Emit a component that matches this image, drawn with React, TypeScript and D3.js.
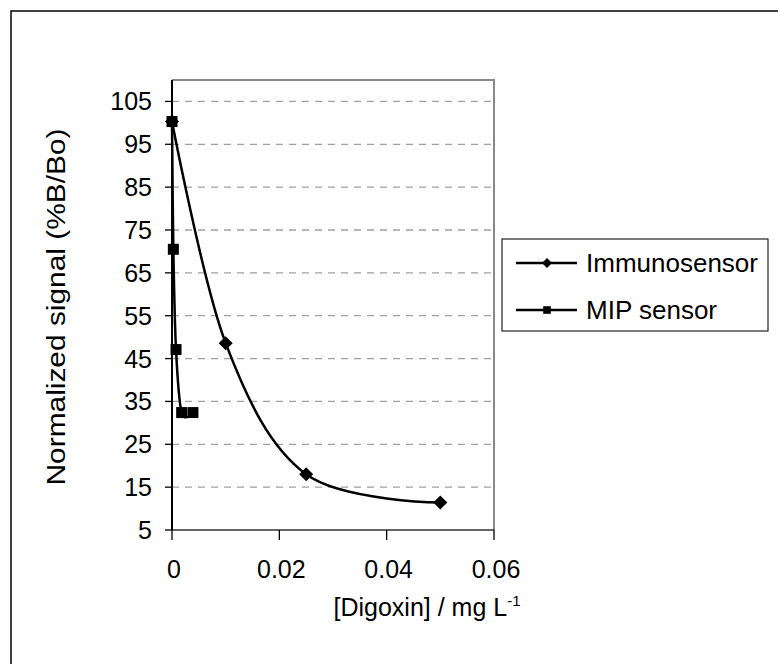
import React, { useEffect, useRef } from "react";
import * as d3 from "d3";

// ---------------------- data
const immunoX = [0, 0.01, 0.025, 0.05];
const immunoY = [100.3, 48.6, 18, 11.4];

const mipX = [0, 0.00025, 0.00075, 0.0018, 0.0039];
const mipY = [100.3, 70.5, 47.1, 32.4, 32.4];

const xTicks = [0, 0.02, 0.04, 0.06];
const yTicks = [5, 15, 25, 35, 45, 55, 65, 75, 85, 95, 105];

const seriesNames = ["Immunosensor", "MIP sensor"];

const App = () => {
   const svgRef = useRef<SVGSVGElement>(null);

   useEffect(() => {
      const width = 778;
      const height = 664;
      const plot = { left: 172, right: 494, top: 80, bottom: 530 };
      const font = "Liberation Sans, Arial, sans-serif";

      const svg = d3.select(svgRef.current);
      svg.selectAll("*").remove();
      svg.attr("width", width).attr("height", height);

      svg.append("rect").attr("width", width).attr("height", height).attr("fill", "#fff");

      // outer frame
      svg.append("rect")
         .attr("x", 11)
         .attr("y", 11)
         .attr("width", 900)
         .attr("height", 900)
         .attr("fill", "none")
         .attr("stroke", "#000")
         .attr("stroke-width", 1.5);

      // ---------------------- scale
      const scale = {
         x: d3.scaleLinear().domain([0, 0.06]).range([plot.left, plot.right]),
         y: d3.scaleLinear().domain([5, 110]).range([plot.bottom, plot.top])
      };

      // ---------------------- grid
      svg.append("g")
         .selectAll("line")
         .data(yTicks.filter(d => d > 5))
         .join("line")
         .attr("x1", plot.left)
         .attr("x2", plot.right)
         .attr("y1", d => scale.y(d))
         .attr("y2", d => scale.y(d))
         .attr("stroke", "#a0a0a0")
         .attr("stroke-width", 1.3)
         .attr("stroke-dasharray", "7,6");

      // plot area border (top, right)
      svg.append("path")
         .attr("d", `M${plot.left},${plot.top}H${plot.right}V${plot.bottom}`)
         .attr("fill", "none")
         .attr("stroke", "#888")
         .attr("stroke-width", 2);

      // ---------------------- axes
      const xAxis = svg.append("g").attr("transform", `translate(0,${plot.bottom})`);
      xAxis.append("line")
         .attr("x1", plot.left)
         .attr("x2", plot.right)
         .attr("stroke", "#333")
         .attr("stroke-width", 1.5);
      xAxis.selectAll(".tick")
         .data(xTicks)
         .join("line")
         .attr("class", "tick")
         .attr("x1", d => scale.x(d))
         .attr("x2", d => scale.x(d))
         .attr("y1", 0)
         .attr("y2", 10)
         .attr("stroke", "#000")
         .attr("stroke-width", 1.3);
      xAxis.selectAll(".lbl")
         .data(xTicks)
         .join("text")
         .attr("class", "lbl")
         .attr("x", d => scale.x(d) + 2)
         .attr("y", 48)
         .attr("text-anchor", "middle")
         .attr("font-family", font)
         .attr("font-size", 25)
         .text(d => (d === 0 ? "0" : d3.format(".2f")(d)));

      const yAxis = svg.append("g").attr("transform", `translate(${plot.left},0)`);
      yAxis.append("line")
         .attr("y1", plot.top)
         .attr("y2", plot.bottom)
         .attr("stroke", "#000")
         .attr("stroke-width", 2);
      yAxis.selectAll(".tick")
         .data(yTicks)
         .join("line")
         .attr("class", "tick")
         .attr("x1", -7)
         .attr("x2", 0)
         .attr("y1", d => scale.y(d))
         .attr("y2", d => scale.y(d))
         .attr("stroke", "#000")
         .attr("stroke-width", 1.3);
      yAxis.selectAll(".lbl")
         .data(yTicks)
         .join("text")
         .attr("class", "lbl")
         .attr("x", -20)
         .attr("y", d => scale.y(d) + 9)
         .attr("text-anchor", "end")
         .attr("font-family", font)
         .attr("font-size", 25)
         .text(d => d);

      // axis titles
      svg.append("text")
         .attr("transform", "translate(65,307) rotate(-90)")
         .attr("text-anchor", "middle")
         .attr("font-family", font)
         .attr("font-size", 25)
         .attr("textLength", 357)
         .attr("lengthAdjust", "spacingAndGlyphs")
         .text("Normalized signal (%B/Bo)");

      const xt = svg.append("text")
         .attr("x", 427)
         .attr("y", 616)
         .attr("text-anchor", "middle")
         .attr("font-family", font)
         .attr("font-size", 25);
      xt.append("tspan").text("[Digoxin] / mg L");
      xt.append("tspan").attr("font-size", 15).attr("dy", -10).text("-1");

      // -------------------- draw series
      const line = d3
         .line<[number, number]>()
         .x(d => scale.x(d[0]))
         .y(d => scale.y(d[1]))
         .curve(d3.curveCardinal.tension(0));

      const immuno: [number, number][] = immunoX.map((x, i) => [x, immunoY[i]]);
      const mip: [number, number][] = mipX.map((x, i) => [x, mipY[i]]);

      svg.append("path")
         .datum(immuno)
         .attr("d", line)
         .attr("fill", "none")
         .attr("stroke", "#000")
         .attr("stroke-width", 2.5);
      svg.append("path")
         .datum(mip)
         .attr("d", line)
         .attr("fill", "none")
         .attr("stroke", "#000")
         .attr("stroke-width", 2.5);

      const diamond = (s: number) => `M0,${-s}L${s},0L0,${s}L${-s},0Z`;
      const square = (s: number) => `M${-s},${-s}H${s}V${s}H${-s}Z`;

      svg.append("g")
         .selectAll("path")
         .data(immuno)
         .join("path")
         .attr("transform", d => `translate(${scale.x(d[0])},${scale.y(d[1])})`)
         .attr("d", diamond(7))
         .attr("fill", "#000");
      svg.append("g")
         .selectAll("path")
         .data(mip)
         .join("path")
         .attr("transform", d => `translate(${scale.x(d[0])},${scale.y(d[1])})`)
         .attr("d", square(5.5))
         .attr("fill", "#000");

      // -------------------- legend
      const legend = svg.append("g");
      legend.append("rect")
         .attr("x", 502)
         .attr("y", 239)
         .attr("width", 266)
         .attr("height", 92)
         .attr("fill", "#fff")
         .attr("stroke", "#222")
         .attr("stroke-width", 1.2);

      const rows = legend.selectAll(".row")
         .data(seriesNames)
         .join("g")
         .attr("class", "row")
         .attr("transform", (d, i) => `translate(0,${263 + i * 47})`);
      rows.append("line")
         .attr("x1", 516)
         .attr("x2", 577)
         .attr("stroke", "#000")
         .attr("stroke-width", 2.5);
      rows.append("path")
         .attr("transform", "translate(547,0)")
         .attr("d", (d, i) => (i === 0 ? diamond(5) : square(3.8)))
         .attr("fill", "#000");
      rows.append("text")
         .attr("x", 586)
         .attr("y", 9)
         .attr("font-family", font)
         .attr("font-size", 26)
         .text(d => d);
   }, []);

   return (
      <div style={{ position: "absolute", left: 0, top: 0 }}>
         <svg ref={svgRef} />
      </div>
   );
};

export default App;
